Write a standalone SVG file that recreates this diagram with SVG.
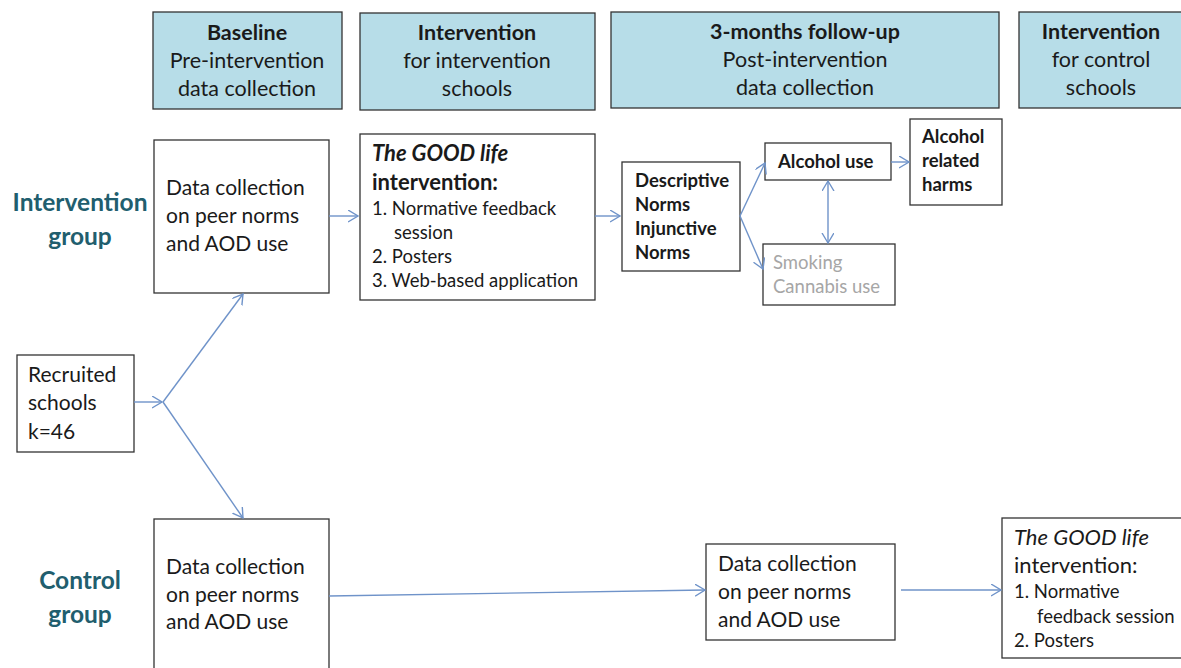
<svg xmlns="http://www.w3.org/2000/svg" width="1181" height="668" viewBox="0 0 1181 668">
  <style>
    .hdr { fill: #b7dde8; stroke: #333333; stroke-width: 1.3; }
    .box { fill: #ffffff; stroke: #333333; stroke-width: 1.3; }
    text { font-family: Lato, "Liberation Sans", sans-serif; fill: #1a1a1a; }
    .ht { font-size: 21.5px; text-anchor: middle; }
    .b { font-weight: bold; }
    .t22 { font-size: 22px; }
    .t21 { font-size: 21px; }
    .t18 { font-size: 18.5px; }
    .grp { font-size: 24.5px; font-weight: bold; fill: #215e6e; text-anchor: middle; }
    .grey { fill: #a6a6a6; }
    .conn { stroke: #6f93c9; stroke-width: 1.4; fill: none; }
  </style>
  <defs>
    <marker id="arr" markerUnits="userSpaceOnUse" markerWidth="14" markerHeight="14" refX="10" refY="6" orient="auto-start-reverse">
      <path d="M0,0 L10,6 L0,12" fill="none" stroke="#6f93c9" stroke-width="1.4"/>
    </marker>
  </defs>

  <rect width="1181" height="668" fill="#ffffff"/>

  <!-- Column headers -->
  <g id="hdr-baseline">
    <rect class="hdr" x="153" y="12" width="189" height="97"/>
    <text class="ht b" x="247" y="40">Baseline</text>
    <text class="ht" x="247" y="68">Pre-intervention</text>
    <text class="ht" x="247" y="96">data collection</text>
  </g>
  <g id="hdr-intervention">
    <rect class="hdr" x="360" y="13" width="235" height="97"/>
    <text class="ht b" x="477" y="40">Intervention</text>
    <text class="ht" x="477" y="68">for intervention</text>
    <text class="ht" x="477" y="96">schools</text>
  </g>
  <g id="hdr-followup">
    <rect class="hdr" x="611" y="12" width="388" height="96"/>
    <text class="ht b" x="805" y="39">3-months follow-up</text>
    <text class="ht" x="805" y="67">Post-intervention</text>
    <text class="ht" x="805" y="95">data collection</text>
  </g>
  <g id="hdr-control">
    <rect class="hdr" x="1019" y="12" width="170" height="96"/>
    <text class="ht b" x="1101" y="39">Intervention</text>
    <text class="ht" x="1101" y="67">for control</text>
    <text class="ht" x="1101" y="95">schools</text>
  </g>

  <!-- Group labels -->
  <g id="label-intervention">
    <text class="grp" x="80" y="211">Intervention</text>
    <text class="grp" x="80" y="245">group</text>
  </g>
  <g id="label-control">
    <text class="grp" x="80" y="589">Control</text>
    <text class="grp" x="80" y="623">group</text>
  </g>

  <!-- Nodes -->
  <g id="recruited">
    <rect class="box" x="17" y="355" width="117" height="97"/>
    <text class="t21" x="28" y="382">Recruited</text>
    <text class="t21" x="28" y="410">schools</text>
    <text class="t21" x="28" y="439">k=46</text>
  </g>
  <g id="int-baseline">
    <rect class="box" x="154" y="140" width="175" height="153"/>
    <text class="t21" x="166" y="195">Data collection</text>
    <text class="t21" x="166" y="223">on peer norms</text>
    <text class="t21" x="166" y="251">and AOD use</text>
  </g>
  <g id="good-life">
    <rect class="box" x="360" y="134" width="235" height="166"/>
    <text class="t22 b" x="372" y="161" font-style="italic">The GOOD life</text>
    <text class="t22 b" x="372" y="190">intervention:</text>
    <text class="t18" x="372" y="215">1. Normative  feedback</text>
    <text class="t18" x="394" y="239">session</text>
    <text class="t18" x="372" y="263">2. Posters</text>
    <text class="t18" x="372" y="287">3. Web-based application</text>
  </g>
  <g id="norms">
    <rect class="box" x="622" y="162" width="118" height="109"/>
    <text class="t18 b" x="635" y="187">Descriptive</text>
    <text class="t18 b" x="635" y="211">Norms</text>
    <text class="t18 b" x="635" y="235">Injunctive</text>
    <text class="t18 b" x="635" y="259">Norms</text>
  </g>
  <g id="alcohol-use">
    <rect class="box" x="765" y="143" width="126" height="37"/>
    <text class="t18 b" x="778" y="168">Alcohol use</text>
  </g>
  <g id="alcohol-harms">
    <rect class="box" x="910" y="119" width="92" height="86"/>
    <text class="t18 b" x="922" y="143">Alcohol</text>
    <text class="t18 b" x="922" y="167">related</text>
    <text class="t18 b" x="922" y="191">harms</text>
  </g>
  <g id="smoking">
    <rect class="box" x="763" y="244" width="132" height="61"/>
    <text class="t18 grey" x="773" y="269">Smoking</text>
    <text class="t18 grey" x="773" y="293">Cannabis use</text>
  </g>
  <g id="ctrl-baseline">
    <rect class="box" x="154" y="519" width="175" height="160"/>
    <text class="t21" x="166" y="574">Data collection</text>
    <text class="t21" x="166" y="602">on peer norms</text>
    <text class="t21" x="166" y="629">and AOD use</text>
  </g>
  <g id="ctrl-followup">
    <rect class="box" x="706" y="544" width="189" height="96"/>
    <text class="t21" x="718" y="571">Data collection</text>
    <text class="t21" x="718" y="599">on peer norms</text>
    <text class="t21" x="718" y="627">and AOD use</text>
  </g>
  <g id="ctrl-good-life">
    <rect class="box" x="1002" y="518" width="190" height="140"/>
    <text class="t22" x="1014" y="545" font-style="italic">The GOOD life</text>
    <text class="t22" x="1014" y="573">intervention:</text>
    <text class="t18" x="1014" y="598">1. Normative</text>
    <text class="t18" x="1037" y="623">feedback session</text>
    <text class="t18" x="1014" y="647">2. Posters</text>
  </g>

  <!-- Connectors -->
  <g id="connectors" class="conn">
    <line x1="134" y1="402" x2="162" y2="402" marker-end="url(#arr)"/>
    <line x1="163" y1="402" x2="243" y2="294" marker-end="url(#arr)"/>
    <line x1="163" y1="402" x2="243" y2="518" marker-end="url(#arr)"/>
    <line x1="329" y1="216" x2="358" y2="216" marker-end="url(#arr)"/>
    <line x1="595" y1="216" x2="620" y2="216" marker-end="url(#arr)"/>
    <line x1="740" y1="216" x2="765" y2="163" marker-end="url(#arr)"/>
    <line x1="740" y1="216" x2="763" y2="269" marker-end="url(#arr)"/>
    <line x1="891" y1="162" x2="909" y2="162" marker-end="url(#arr)"/>
    <line x1="828" y1="181" x2="828" y2="243" marker-start="url(#arr)" marker-end="url(#arr)"/>
    <line x1="329" y1="596" x2="705" y2="590" marker-end="url(#arr)"/>
    <line x1="901" y1="590" x2="1001" y2="590" marker-end="url(#arr)"/>
  </g>
</svg>
